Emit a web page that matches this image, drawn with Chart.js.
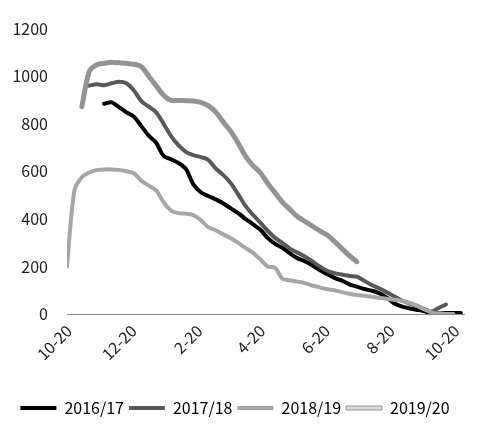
<!DOCTYPE html>
<html>
<head>
<meta charset="utf-8">
<script src="https://cdn.jsdelivr.net/npm/chart.js@4.4.0/dist/chart.umd.min.js"></script>
<style>
  html, body { margin: 0; padding: 0; background: #fff; }
  #wrap { width: 488px; height: 430px; }
</style>
</head>
<body>
<div id="wrap"><canvas id="chart"></canvas></div>
<script>
// ticks shown on the x axis: days counted from 10-20
const tickLabels = ['10-20', '12-20', '2-20', '4-20', '6-20', '8-20', '10-20'];
const tickDays = [0, 61, 123, 182, 243, 304, 365];

const seasons = ['2016/17', '2017/18', '2018/19', '2019/20'];
// first week (counted from 10-20) of each series
const startWeeks = [5, 3, 0, 2];

// weekly values
const s1617 = [884, 890, 870, 848, 830, 790, 750, 720, 665, 650, 635, 610, 545, 512, 496, 482,
  466, 445, 425, 400, 378, 355, 320, 295, 278, 255, 235, 222, 205, 185, 168, 152, 140, 125,
  115, 105, 98, 88, 70, 45, 32, 24, 18, 12, 4, 2, 4, 4, 4];
const s1718 = [960, 966, 962, 970, 976, 970, 940, 895, 872, 848, 800, 748, 710, 682, 668, 660,
  648, 612, 585, 552, 505, 456, 418, 385, 350, 320, 298, 275, 258, 242, 222, 200, 182, 172,
  166, 160, 157, 140, 122, 108, 92, 75, 58, 45, 35, 22, 10, 25, 40];
const s1819 = [200, 520, 575, 595, 605, 608, 608, 606, 600, 592, 560, 540, 520, 470, 435, 424,
  422, 416, 395, 365, 352, 335, 320, 300, 278, 258, 230, 200, 195, 148, 142, 136, 130, 120,
  112, 104, 100, 92, 85, 80, 77, 72, 68, 64, 60, 56, 48, 36, 20, 8, 0, 0, 0];
const s1920 = [872, 1020, 1048, 1054, 1058, 1056, 1054, 1050, 1040, 1000, 960, 920, 898, 898,
  897, 896, 890, 876, 850, 808, 770, 720, 665, 625, 595, 550, 510, 470, 440, 410, 390, 370,
  350, 332, 305, 275, 245, 220];

const seriesValues = [s1617, s1718, s1819, s1920];
const lineColors = ['#000000', '#595959', '#a6a6a6', '#dcdcdc'];
const fontFamily = 'Noto Sans CJK SC';

function toPoints(values, startWeek) {
  return values.map((v, i) => ({ x: (startWeek + i) * 7, y: v }));
}

const datasets = seriesValues.map((vals, i) => ({
  label: seasons[i],
  data: toPoints(vals, startWeeks[i]),
  borderColor: lineColors[i],
  backgroundColor: lineColors[i],
  borderWidth: i === 3 ? 3 : 4,
  order: 10 - 2 * i
}));
// grey outline under the 2019/20 line
datasets.push({
  label: 'outline',
  data: toPoints(s1920, startWeeks[3]),
  borderColor: '#939393',
  borderWidth: 5,
  order: 3
});

// the axis would not tilt its own labels here, so write them at 45 degrees by hand
const slantedXLabels = {
  id: 'slantedXLabels',
  afterDraw(chart) {
    const xs = chart.scales.x;
    const c = chart.ctx;
    c.save();
    c.font = '16px "' + fontFamily + '"';
    c.fillStyle = '#222';
    c.textAlign = 'right';
    c.textBaseline = 'middle';
    tickDays.forEach((d, i) => {
      c.save();
      c.translate(xs.getPixelForValue(d) + 2, xs.top + 14);
      c.rotate(-Math.PI / 4);
      c.fillText(tickLabels[i], 0, 0);
      c.restore();
    });
    c.restore();
  }
};

const ctx = document.getElementById('chart').getContext('2d');
new Chart(ctx, {
  type: 'line',
  data: { datasets: datasets },
  plugins: [slantedXLabels],
  options: {
    responsive: true,
    maintainAspectRatio: false,
    animation: false,
    layout: { padding: { top: 2, left: 6, right: 24, bottom: 4 } },
    elements: {
      point: { radius: 0 },
      line: { tension: 0.3, borderCapStyle: 'round', borderJoinStyle: 'round' }
    },
    scales: {
      x: {
        type: 'linear',
        min: 0,
        max: 374,
        grid: { display: false },
        border: { display: true, color: '#8a8a8a', width: 1 },
        afterBuildTicks: axis => { axis.ticks = tickDays.map(d => ({ value: d })); },
        afterFit: axis => { axis.height = 81; },
        ticks: { display: false }
      },
      y: {
        min: 0,
        max: 1200,
        grid: { display: false, drawTicks: false },
        border: { display: false },
        afterFit: axis => { axis.width = 61; },
        ticks: {
          stepSize: 200,
          color: '#222',
          padding: 19,
          font: { family: fontFamily, size: 16 },
          callback: (value) => String(value)
        }
      }
    },
    plugins: {
      tooltip: { enabled: false },
      legend: {
        position: 'bottom',
        labels: {
          boxWidth: 36,
          boxHeight: 4,
          padding: 5,
          color: '#222',
          font: { family: fontFamily, size: 16 },
          generateLabels: () => seasons.map((name, i) => ({
            text: name,
            fillStyle: lineColors[i],
            strokeStyle: i === 3 ? '#939393' : lineColors[i],
            lineWidth: i === 3 ? 1 : 0,
            datasetIndex: i
          }))
        }
      }
    }
  }
});
</script>
</body>
</html>
